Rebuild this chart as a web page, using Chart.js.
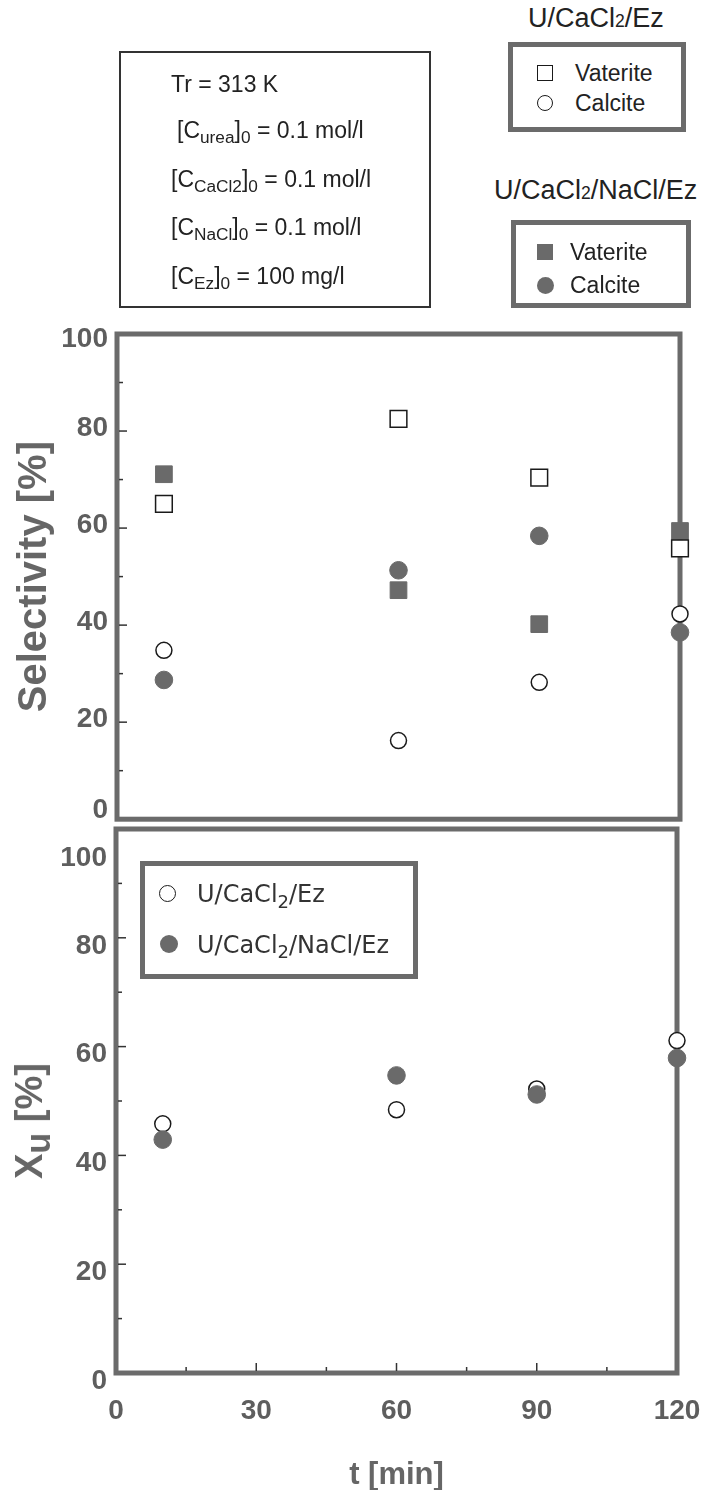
<!DOCTYPE html>
<html><head><meta charset="utf-8">
<script src="https://cdn.jsdelivr.net/npm/chart.js@4.4.0/dist/chart.umd.min.js"></script>
<style>
html,body{margin:0;padding:0;background:#fff;}
body{width:705px;height:1490px;position:relative;overflow:hidden;font-family:"Liberation Sans",Arial,sans-serif;color:#222;}
canvas{position:absolute;left:0;}
.abs{position:absolute;white-space:nowrap;line-height:1;}
.box{position:absolute;box-sizing:border-box;}
.pbox{border:2px solid #333;}
.lbox{border:5px solid #6b6b6b;}
.t23{font-size:23px;}
.t27{font-size:27px;}
.sub{font-size:0.75em;position:relative;top:0.3em;}
.sm2{font-size:0.65em;}
.mk{position:absolute;box-sizing:border-box;}
.open{background:#fff;border:1.5px solid #1a1a1a;}
.fill{background:#6a6a6a;}
.rnd{border-radius:50%;}
.dv{font-family:"DejaVu Sans",sans-serif;font-size:24px;color:#333;}
.ytitle{position:absolute;white-space:nowrap;line-height:1;font-weight:bold;font-size:38px;color:#666;transform:translate(-50%,-50%) rotate(-90deg);}
</style></head>
<body>
<canvas id="c1" width="705" height="545" style="top:300px"></canvas>
<canvas id="c2" width="705" height="690" style="top:800px"></canvas>

<!-- parameter box -->
<div class="box pbox" style="left:119px;top:51px;width:312px;height:257px"></div>
<div class="abs t23" style="left:171px;top:72.5px">Tr = 313 K</div>
<div class="abs t23" style="left:177px;top:118.5px">[C<span class="sub">urea</span>]<span class="sub">0</span> = 0.1 mol/l</div>
<div class="abs t23" style="left:171px;top:167.5px">[C<span class="sub">CaCl2</span>]<span class="sub">0</span> = 0.1 mol/l</div>
<div class="abs t23" style="left:171px;top:215.5px">[C<span class="sub">NaCl</span>]<span class="sub">0</span> = 0.1 mol/l</div>
<div class="abs t23" style="left:171px;top:264.5px">[C<span class="sub">Ez</span>]<span class="sub">0</span> = 100 mg/l</div>

<!-- legend 1 -->
<div class="abs t27" style="left:528px;top:5px">U/CaCl<span class="sm2">2</span>/Ez</div>
<div class="box lbox" style="left:508px;top:42px;width:178px;height:90px"></div>
<div class="mk open" style="left:537px;top:65px;width:16px;height:16px"></div>
<div class="mk open rnd" style="left:537px;top:95px;width:16px;height:16px"></div>
<div class="abs t23" style="left:575px;top:62px">Vaterite</div>
<div class="abs t23" style="left:575px;top:92px">Calcite</div>

<!-- legend 2 -->
<div class="abs t27" style="left:494px;top:177px">U/CaCl<span class="sm2">2</span>/NaCl/Ez</div>
<div class="box lbox" style="left:511px;top:220px;width:180px;height:88px"></div>
<div class="mk fill" style="left:537px;top:244px;width:16px;height:16px"></div>
<div class="mk fill rnd" style="left:536.5px;top:276.5px;width:17px;height:17px"></div>
<div class="abs t23" style="left:570px;top:240.5px">Vaterite</div>
<div class="abs t23" style="left:570px;top:273.5px">Calcite</div>

<!-- lower legend -->
<div class="box lbox" style="left:140px;top:861px;width:278px;height:118px"></div>
<div class="mk open rnd" style="left:159px;top:885px;width:17px;height:17px"></div>
<div class="mk fill rnd" style="left:160px;top:935px;width:18px;height:18px"></div>
<div class="abs dv" style="left:197px;top:882.4px">U/CaCl<span class="sub">2</span>/Ez</div>
<div class="abs dv" style="left:197px;top:932.7px">U/CaCl<span class="sub">2</span>/NaCl/Ez</div>

<!-- lower y title -->
<div class="ytitle" style="left:29px;top:1121px">X<span style="font-size:0.9em;position:relative;top:0.22em">u</span> [%]</div>

<script>
// ---------- data ----------
const timeMin = [10, 60, 90, 120];
const selVateriteUCaCl2Ez = [65.0, 82.5, 70.4, 55.8];
const selCalciteUCaCl2Ez = [34.8, 16.2, 28.2, 42.3];
const selVateriteUCaCl2NaClEz = [71.1, 47.2, 40.2, 59.4];
const selCalciteUCaCl2NaClEz = [28.7, 51.3, 58.4, 38.5];
const convUCaCl2Ez = [45.8, 48.4, 52.2, 61.1];
const convUCaCl2NaClEz = [42.9, 54.7, 51.2, 57.9];
const xTickLabels = ['0', '30', '60', '90', '120'];
const yTickLabels = ['0', '20', '40', '60', '80', '100'];

// ---------- helpers ----------
function pts(xs, ys) { return xs.map((x, i) => ({ x: x, y: ys[i] })); }
const GRAY = '#6a6a6a';
const tickFont = { family: '"Liberation Sans", Arial, sans-serif', weight: 'bold', size: 28 };

const framePlugin = {
  id: 'frame',
  beforeDatasetsDraw(chart, args, opts) {
    const { ctx, chartArea: a } = chart;
    ctx.save();
    ctx.strokeStyle = '#6b6b6b';
    ctx.lineWidth = 5;
    ctx.strokeRect(a.left, a.top, a.right - a.left, a.bottom - a.top);
    ctx.strokeStyle = '#333';
    ctx.lineWidth = 1.5;
    const ys = chart.scales.y;
    ys.ticks.forEach(t => {
      if (t.value <= 0 || t.value >= 100) return;
      const y = ys.getPixelForValue(t.value);
      const len = (t.value % 20 === 0) ? 10 : 6;
      ctx.beginPath(); ctx.moveTo(a.left + 2, y); ctx.lineTo(a.left + len, y); ctx.stroke();
    });
    if (opts.xTicks) {
      const xs = chart.scales.x;
      xs.ticks.forEach(t => {
        if (t.value <= 0 || t.value >= 120) return;
        const x = xs.getPixelForValue(t.value);
        const len = (t.value % 30 === 0) ? 10 : 6;
        ctx.beginPath(); ctx.moveTo(x, a.bottom - 2); ctx.lineTo(x, a.bottom - len); ctx.stroke();
      });
    }
    ctx.restore();
  }
};

const labelShift = {
  id: 'labelShift',
  beforeDraw(chart, args, opts) {
    const s = chart.scales.y;
    const items = s.getLabelItems();
    items.forEach(it => {
      if (it._shifted) return;
      const d = opts.shifts && opts.shifts[String(it.label)];
      if (d) it.options.translation[1] += d;
      it._shifted = true;
    });
  }
};

function ds(label, data, style, filled, order) {
  return {
    label: label, data: data, order: order, clip: false,
    pointStyle: style,
    pointRadius: style === 'rect' ? 11.8 : (filled ? 8.8 : 8.0),
    pointHoverRadius: style === 'rect' ? 11.8 : (filled ? 8.8 : 8.0),
    backgroundColor: filled ? GRAY : '#fff',
    borderColor: filled ? GRAY : '#1a1a1a',
    borderWidth: filled ? 1 : 1.5,
    showLine: false
  };
}

function yLabelCb(v) { const s = String(v); return yTickLabels.includes(s) ? s : ''; }
function xLabelCb(v) { const s = String(v); return xTickLabels.includes(s) ? s : ''; }

// ---------- top chart: selectivity ----------
new Chart(document.getElementById('c1'), {
  type: 'scatter',
  data: {
    datasets: [
      ds('U/CaCl2/Ez Vaterite', pts(timeMin, selVateriteUCaCl2Ez), 'rect', false, 0),
      ds('U/CaCl2/NaCl/Ez Calcite', pts(timeMin, selCalciteUCaCl2NaClEz), 'circle', true, 1),
      ds('U/CaCl2/NaCl/Ez Vaterite', pts(timeMin, selVateriteUCaCl2NaClEz), 'rect', true, 2),
      ds('U/CaCl2/Ez Calcite', pts(timeMin, selCalciteUCaCl2Ez), 'circle', false, 3)
    ]
  },
  options: {
    responsive: false, animation: false, events: [],
    layout: { padding: { left: 0, right: 25, top: 34, bottom: 16 } },
    plugins: { legend: { display: false }, tooltip: { enabled: false },
      frame: { xTicks: false },
      labelShift: { shifts: { '0': -6, '100': 8 } } },
    scales: {
      x: { type: 'linear', min: 0, max: 120, display: false },
      y: {
        type: 'linear', min: 0, max: 100,
        grid: { display: false, drawTicks: false }, border: { display: false },
        ticks: { stepSize: 10, autoSkip: false, padding: 9, labelOffset: -3, font: tickFont, color: '#5e5e5e', callback: yLabelCb },
        title: { display: true, text: 'Selectivity [%]', color: '#666', padding: { top: 11, bottom: 0 },
          font: { family: '"Liberation Sans", Arial, sans-serif', weight: 'bold', size: 40 } },
        afterFit(s) { s.width = 117; }
      }
    }
  },
  plugins: [framePlugin, labelShift]
});

// ---------- bottom chart: urea conversion ----------
new Chart(document.getElementById('c2'), {
  type: 'scatter',
  data: {
    datasets: [
      ds('U/CaCl2/NaCl/Ez', pts(timeMin, convUCaCl2NaClEz), 'circle', true, 0),
      ds('U/CaCl2/Ez', pts(timeMin, convUCaCl2Ez), 'circle', false, 1)
    ]
  },
  options: {
    responsive: false, animation: false, events: [],
    layout: { padding: { left: 0, right: 28, top: 29, bottom: 0 } },
    plugins: { legend: { display: false }, tooltip: { enabled: false },
      frame: { xTicks: true },
      labelShift: { shifts: { '100': 21 } } },
    scales: {
      x: {
        type: 'linear', min: 0, max: 120,
        grid: { display: false, drawTicks: false }, border: { display: false },
        ticks: { stepSize: 15, autoSkip: false, maxRotation: 0, padding: 21, font: tickFont, color: '#5e5e5e', callback: xLabelCb },
        title: { display: true, text: 't [min]', color: '#666', padding: { top: 0, bottom: -4 },
          font: { family: '"Liberation Sans", Arial, sans-serif', weight: 'bold', size: 31 } },
        afterFit(s) { s.height = 117; s.paddingLeft = 0; s.paddingRight = 0; }
      },
      y: {
        type: 'linear', min: 0, max: 100,
        grid: { display: false, drawTicks: false }, border: { display: false },
        ticks: { stepSize: 10, autoSkip: false, padding: 9, labelOffset: 8, font: tickFont, color: '#5e5e5e', callback: yLabelCb },
        title: { display: false },
        afterFit(s) { s.width = 116; }
      }
    }
  },
  plugins: [framePlugin, labelShift]
});
</script>
</body></html>
